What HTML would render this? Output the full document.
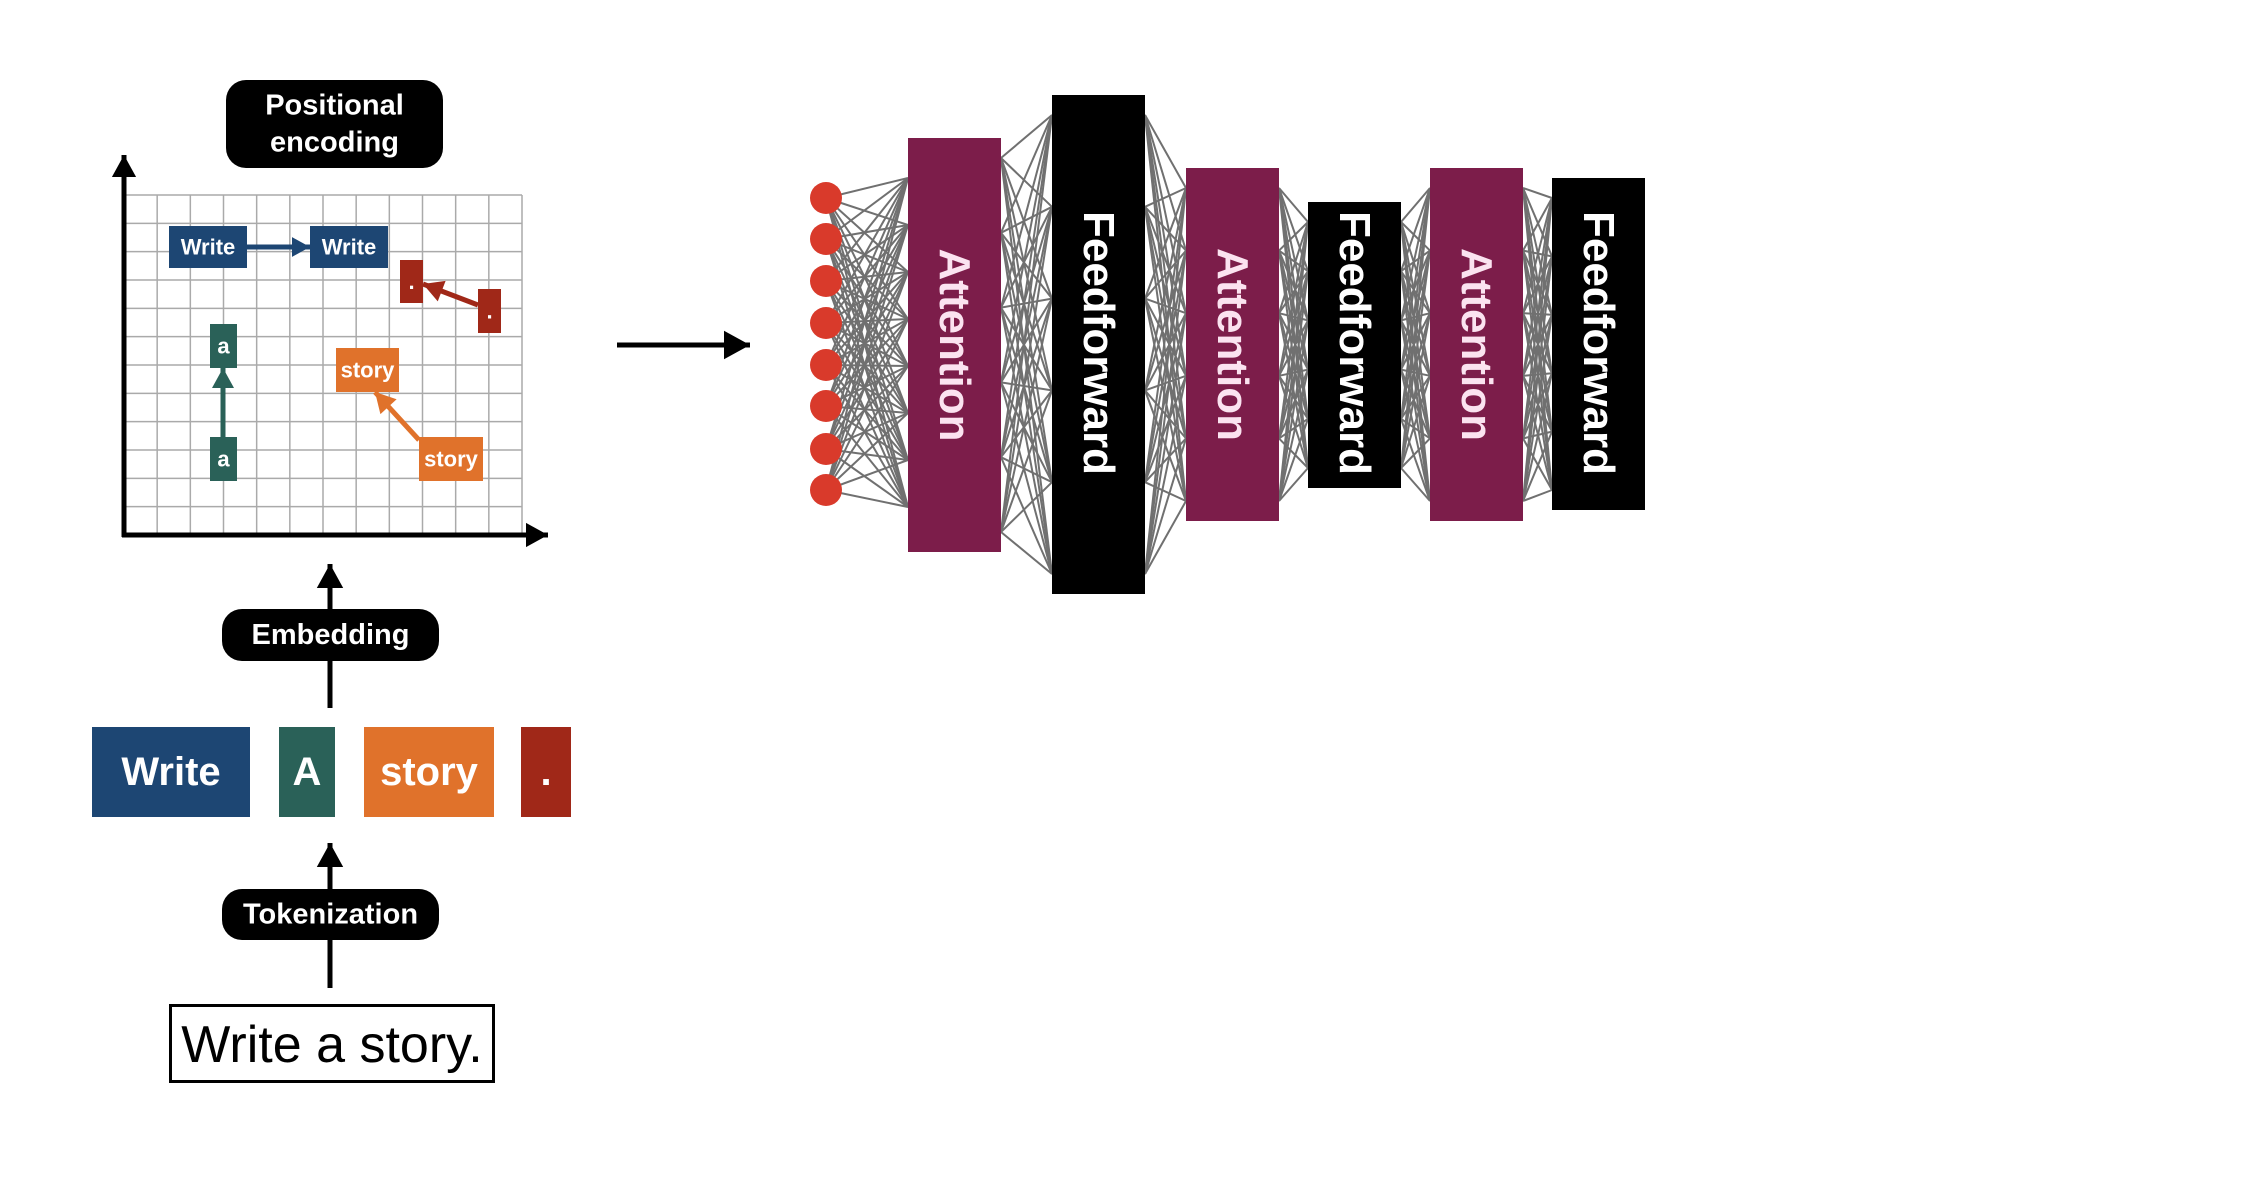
<!DOCTYPE html>
<html><head><meta charset="utf-8"><style>
html,body{margin:0;padding:0;background:#fff;width:2256px;height:1202px;overflow:hidden}
svg{display:block}
text{font-family:"Liberation Sans",sans-serif;font-weight:bold}
</style></head><body>
<svg id="s" width="2256" height="1202" viewBox="0 0 2256 1202" xmlns="http://www.w3.org/2000/svg">
<g id="grid"></g>
<g id="conn"></g>
<g id="layers"></g>
<g id="front"></g>
</svg>
<script>
const NS="http://www.w3.org/2000/svg";
const nodeYs=[198,239,281,323,365,406,449,490];
const layerNames=["Attention","Feedforward","Attention","Feedforward","Attention","Feedforward"];
const layerX=[908,1052,1186,1308,1430,1552];
const layerTop=[138,95,168,202,168,178];
const layerBottom=[552,594,521,488,521,510];
const layerW=93;
const gridCols=12, gridRows=12;

const svg=document.getElementById('s');
function mk(tag,attrs,parent){const e=document.createElementNS(NS,tag);for(const k in attrs)e.setAttribute(k,attrs[k]);(parent||svg).appendChild(e);return e;}

const g=document.getElementById('grid');
const gx0=124,gx1=522,gy0=195,gy1=535;
for(let i=0;i<=gridCols;i++){const x=gx0+(gx1-gx0)*i/gridCols;const l=mk('line',{x1:x,y1:gy0,x2:x,y2:gy1,stroke:'#aaa','stroke-width':1.5},g);}
for(let j=0;j<=gridRows;j++){const y=gy0+(gy1-gy0)*j/gridRows;const l=mk('line',{x1:gx0,y1:y,x2:gx1,y2:y,stroke:'#aaa','stroke-width':1.5},g);}

const cg=document.getElementById('conn');
function pts(top,bot,n){const a=[];for(let i=0;i<n;i++)a.push(top+(bot-top)*i/(n-1));return a;}
function connect(xa,ya,xb,yb){for(const a of ya)for(const b of yb){const l=mk('line',{x1:xa,y1:a,x2:xb,y2:b,stroke:'#707070','stroke-width':2},cg);}}
connect(826,nodeYs,layerX[0],pts(layerTop[0]+40,layerBottom[0]-45,8));
for(let i=0;i<layerX.length-1;i++){
  connect(layerX[i]+layerW,pts(layerTop[i]+20,layerBottom[i]-20,6),layerX[i+1],pts(layerTop[i+1]+20,layerBottom[i+1]-20,6));
}
const lg=document.getElementById('layers');
for(let i=0;i<layerX.length;i++){
  const att=layerNames[i]==="Attention";
  const r=mk('rect',{x:layerX[i],y:layerTop[i],width:layerW,height:layerBottom[i]-layerTop[i],fill:att?'#7c1d4a':'#000'},lg);
  
  
  const cx=layerX[i]+layerW/2;
  const ty=att?(layerTop[i]+layerBottom[i])/2:343;
  const t=mk('text',{x:cx,y:ty,transform:`rotate(90 ${cx} ${ty})`,'text-anchor':'middle','dominant-baseline':'central','font-size':44,fill:att?'#fbe3f0':'#fff'},lg);
  t.textContent=layerNames[i];
  
  
}
for(const y of nodeYs){const c=mk('circle',{cx:826,cy:y,r:16,fill:'#d93a2b'},lg);}

const f=document.getElementById('front');
function box(x,y,w,h,fill,txt,fs,name,tc){const r=mk('rect',{x,y,width:w,height:h,fill},f);
 if(txt){const t=mk('text',{x:x+w/2,y:y+h/2,'text-anchor':'middle','dominant-baseline':'central','font-size':fs,fill:tc||'#fff'},f);t.textContent=txt;}}
function line(x1,y1,x2,y2,c,w,head,name){const l=mk('line',{x1,y1,x2,y2,stroke:c,'stroke-width':w},f);
 if(head){const a=Math.atan2(y2-y1,x2-x1),L=head,W=head*0.55;const p=mk('polygon',{points:`${x2},${y2} ${x2-L*Math.cos(a)+W*Math.sin(a)},${y2-L*Math.sin(a)-W*Math.cos(a)} ${x2-L*Math.cos(a)-W*Math.sin(a)},${y2-L*Math.sin(a)+W*Math.cos(a)}`,fill:c},f);}}

line(124,537,124,155,'#000',5,22,'y-axis');
line(122,535,548,535,'#000',5,22,'x-axis');
line(247,247,310,247,'#1d4673',5,18,'write-shift-arrow');
box(169,226,78,42,'#1d4673','Write',22,'write-start');
box(310,226,78,42,'#1d4673','Write',22,'write-end');
line(478,305,423,284,'#a02818',5,20,'dot-shift-arrow');
box(400,260,23,43,'#a02818','.',22,'dot-end');
box(478,289,23,44,'#a02818','.',22,'dot-start');
line(223,437,223,368,'#2a6158',5,20,'a-shift-arrow');
box(210,324,27,44,'#2a6158','a',22,'a-end');
box(210,437,27,44,'#2a6158','a',22,'a-start');
line(419,440,375,392,'#e0722b',5,20,'story-shift-arrow');
box(336,348,63,44,'#e0722b','story',22,'story-end');
box(419,437,64,44,'#e0722b','story',22,'story-start');

function pill(x,y,w,h,lines,name){const r=mk('rect',{x,y,width:w,height:h,rx:20,fill:'#000'},f);
 lines.forEach((s,i)=>{const t=mk('text',{x:x+w/2,y:y+h/2+(i-(lines.length-1)/2)*37,'text-anchor':'middle','dominant-baseline':'central','font-size':29,fill:'#fff'},f);t.textContent=s;});}
pill(226,80,217,88,['Positional','encoding'],'positional-encoding-label');

line(330,708,330,564,'#000',5,24,'embedding-arrow');
pill(222,609,217,52,['Embedding'],'embedding-label');
line(330,988,330,843,'#000',5,24,'tokenization-arrow');
pill(222,889,217,51,['Tokenization'],'tokenization-label');

box(92,727,158,90,'#1d4673','Write',40,'token-write');
box(279,727,56,90,'#2a6158','A',40,'token-a');
box(364,727,130,90,'#e0722b','story',40,'token-story');
box(521,727,50,90,'#a02818','.',40,'token-period');

const ib=mk('rect',{x:170.5,y:1005.5,width:323,height:76,fill:'#fff',stroke:'#000','stroke-width':3},f);

const it=mk('text',{x:332,y:1045,'text-anchor':'middle','dominant-baseline':'central','font-size':52,fill:'#000',style:'font-weight:normal'},f);
it.textContent='Write a story.';

line(617,345,750,345,'#000',5,26,'to-transformer-arrow');
</script>
</body></html>
